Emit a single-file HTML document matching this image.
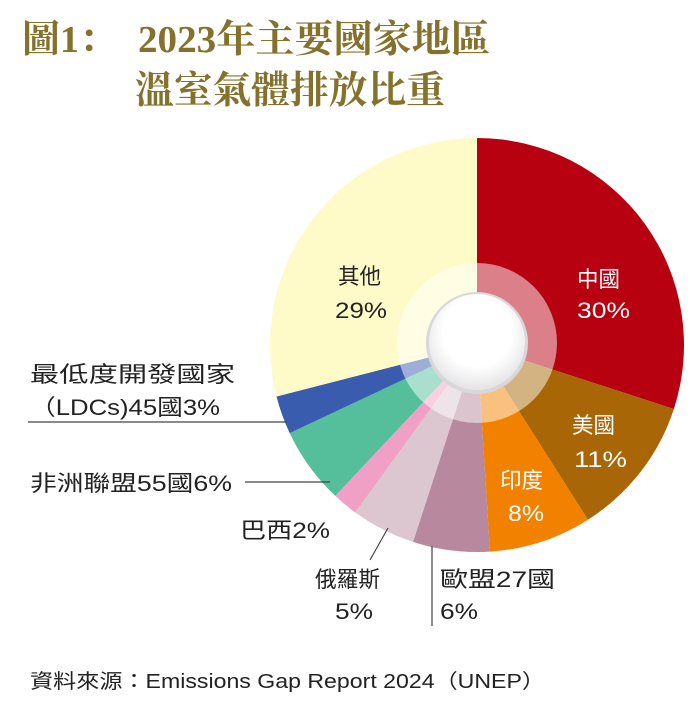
<!DOCTYPE html>
<html><head><meta charset="utf-8"><style>
body{margin:0;background:#fff;width:695px;height:714px;overflow:hidden}
svg{display:block}
.t{font-family:"Liberation Serif","Noto Serif CJK SC",serif;font-weight:bold;fill:#84722c;font-size:38px}
.l{font-family:"Liberation Sans","Noto Sans CJK TC",sans-serif;font-size:22px;fill:#222}
.w{fill:#fff}
</style></head><body>
<svg id="s" width="695" height="714" viewBox="0 0 695 714">
<defs><radialGradient id="g" cx="0.5" cy="0.4" r="0.6"><stop offset="0.6" stop-color="#fff"/><stop offset="1" stop-color="#e4e4e6"/></radialGradient></defs>
<g id="pie"></g>
<circle cx="477" cy="343" r="80" fill="#fff" fill-opacity="0.5"/>
<circle cx="477" cy="343" r="51" fill="#d8d8da"/>
<circle cx="477" cy="342" r="48" fill="url(#g)"/>
<g lengthAdjust="spacingAndGlyphs">
<text class="t" x="22" y="52">圖1：</text>
<text class="t" x="138" y="52" textLength="352" lengthAdjust="spacingAndGlyphs">2023年主要國家地區</text>
<text class="t" x="135" y="103" textLength="310" lengthAdjust="spacingAndGlyphs">溫室氣體排放比重</text>
<text class="l" x="338" y="284" textLength="43" lengthAdjust="spacingAndGlyphs">其他</text><text class="l" x="335" y="318" textLength="52" lengthAdjust="spacingAndGlyphs">29%</text>
<text class="l w" x="577" y="287" textLength="43" lengthAdjust="spacingAndGlyphs">中國</text><text class="l w" x="577" y="318" textLength="53" lengthAdjust="spacingAndGlyphs">30%</text>
<text class="l w" x="572" y="433" textLength="43" lengthAdjust="spacingAndGlyphs">美國</text><text class="l w" x="574" y="467" textLength="53" lengthAdjust="spacingAndGlyphs">11%</text>
<text class="l w" x="500" y="488" textLength="43" lengthAdjust="spacingAndGlyphs">印度</text><text class="l w" x="508" y="521" textLength="36" lengthAdjust="spacingAndGlyphs">8%</text>
<text class="l" x="30" y="382" textLength="205" lengthAdjust="spacingAndGlyphs">最低度開發國家</text><text class="l" x="30" y="415" textLength="190" lengthAdjust="spacingAndGlyphs">（LDCs)45國3%</text>
<text class="l" x="30" y="491" textLength="202" lengthAdjust="spacingAndGlyphs">非洲聯盟55國6%</text>
<text class="l" x="240" y="538" textLength="90" lengthAdjust="spacingAndGlyphs">巴西2%</text>
<text class="l" x="315" y="587" textLength="65" lengthAdjust="spacingAndGlyphs">俄羅斯</text><text class="l" x="335" y="619" textLength="38" lengthAdjust="spacingAndGlyphs">5%</text>
<text class="l" x="440" y="587" textLength="115" lengthAdjust="spacingAndGlyphs">歐盟27國</text><text class="l" x="440" y="619" textLength="38" lengthAdjust="spacingAndGlyphs">6%</text>
<text class="l" x="30" y="688" style="font-size:20px" textLength="515" lengthAdjust="spacingAndGlyphs">資料來源：Emissions Gap Report 2024（UNEP）</text>
</g>
<g stroke="#444" stroke-width="1.2" fill="none">
<line x1="28" y1="422" x2="287" y2="422"/>
<line x1="245" y1="482" x2="330" y2="482"/>
<polyline points="370,560 388,528"/>
<line x1="432" y1="546" x2="432" y2="626"/>
</g>
</svg>
<script>
var d=[[30,"#b70010"],[11,"#a96606"],[8,"#f28100"],[6,"#b8889e"],[5,"#dcc7d0"],[2,"#f0a0c4"],[6,"#55bf9b"],[3,"#3a5cae"],[29,"#fffbc9"]];
var cx=477,cy=345,r=207,c=0,h="";
d.forEach(function(e){var a0=c*3.6*Math.PI/180;c+=e[0];var a1=c*3.6*Math.PI/180;
var x0=cx+r*Math.sin(a0),y0=cy-r*Math.cos(a0),x1=cx+r*Math.sin(a1),y1=cy-r*Math.cos(a1);
h+='<path d="M'+cx+','+cy+'L'+x0+','+y0+'A'+r+','+r+' 0 '+(e[0]>50?1:0)+' 1 '+x1+','+y1+'Z" fill="'+e[1]+'"/>';});
document.getElementById("pie").innerHTML=h;
</script>
</body></html>
